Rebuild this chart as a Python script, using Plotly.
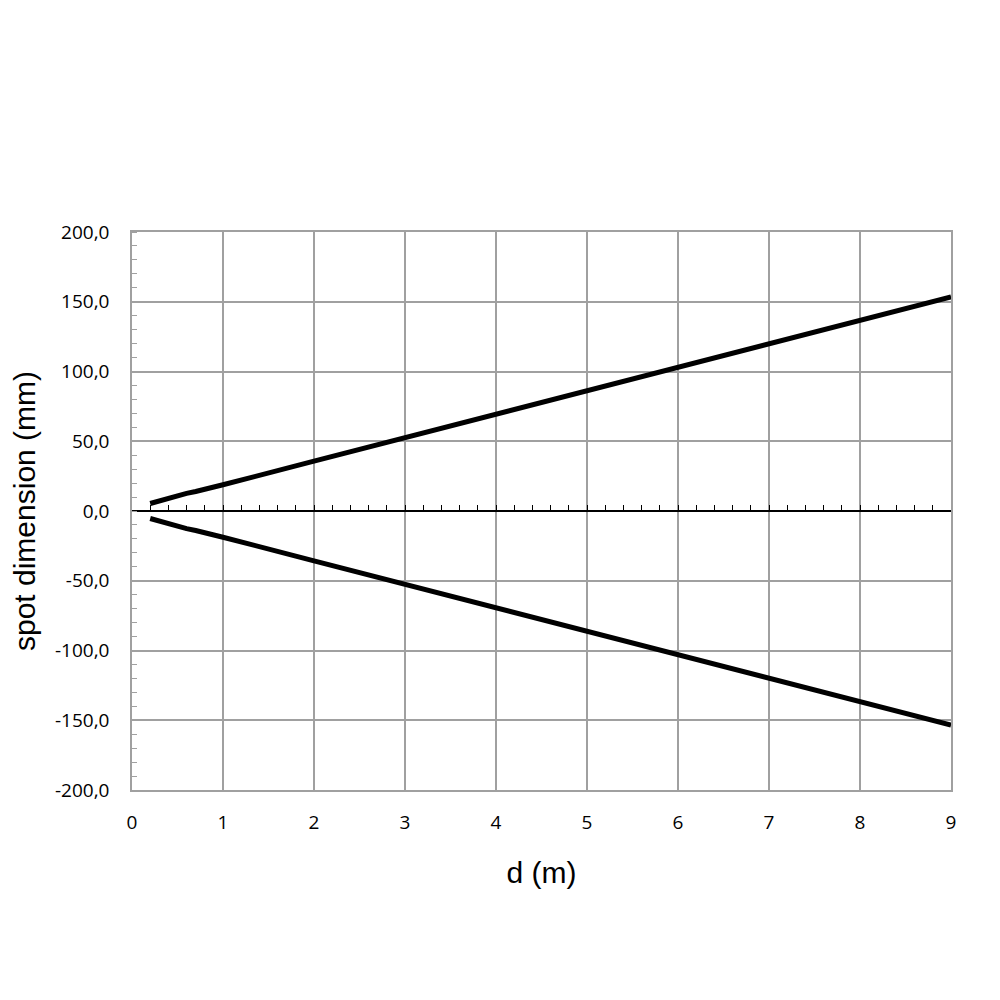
import plotly.graph_objs as go

# distance (m)
d = [0.2, 0.3, 0.4, 0.5, 0.6, 0.7, 0.8, 1, 2, 3, 4, 5, 6, 7, 8, 9]
# spot dimension (mm), upper and lower edge
upper = [5.4, 7.4, 9.3, 11.0, 12.6, 14.0, 15.4, 18.8, 35.7, 52.6, 69.5, 86.4, 103.2, 120.0, 136.8, 153.5]
lower = [-5.4, -7.4, -9.3, -11.0, -12.6, -14.0, -15.4, -18.8, -35.7, -52.6, -69.5, -86.4, -103.2, -120.0, -136.8, -153.5]

x_ticks = [0, 1, 2, 3, 4, 5, 6, 7, 8, 9]
y_ticks = [-200, -150, -100, -50, 0, 50, 100, 150, 200]
y_labels = ['-200,0', '-150,0', '-100,0', '-50,0', '0,0', '50,0', '100,0', '150,0', '200,0']

grid = '#a0a0a0'
tickfont = dict(family='Open Sans', size=19, color='black')
titlefont = dict(family='Liberation Sans', size=30, color='black')

data = [
    go.Scatter(x=d, y=upper, mode='lines', line=dict(color='black', width=5), showlegend=False),
    go.Scatter(x=d, y=lower, mode='lines', line=dict(color='black', width=5), showlegend=False),
    # invisible trace so the zero-line axis gets drawn
    go.Scatter(x=[0, 9], y=[0, 0], xaxis='x2', mode='lines', line=dict(width=0),
               hoverinfo='skip', showlegend=False),
]

layout = go.Layout(
    width=992, height=992,
    paper_bgcolor='white', plot_bgcolor='white',
    margin=dict(l=124, r=49, t=224, b=210),
    xaxis=dict(range=[0, 9], tickvals=x_ticks, showgrid=True, gridcolor=grid, gridwidth=1.5,
               showline=True, linecolor=grid, linewidth=1.5, mirror=True,
               ticks='outside', ticklen=14, tickcolor='rgba(0,0,0,0)',
               tickfont=tickfont, zeroline=False, automargin=False,
               title=dict(text='d (m)', font=titlefont, standoff=28)),
    xaxis2=dict(range=[0, 9], overlaying='x', anchor='free', position=0.5,
                showline=True, linecolor='black', linewidth=1.5,
                ticks='inside', tickcolor='black', ticklen=5, dtick=0.2, tick0=0,
                showticklabels=False, showgrid=False, zeroline=False),
    yaxis=dict(range=[-200, 200], tickvals=y_ticks, ticktext=y_labels,
               showgrid=True, gridcolor=grid, gridwidth=1.5,
               showline=True, linecolor=grid, linewidth=1.5, mirror=True,
               ticks='outside', ticklen=17, tickcolor='rgba(0,0,0,0)',
               tickfont=tickfont, zeroline=False, automargin=False,
               minor=dict(dtick=10, ticks='inside', ticklen=5, tickcolor=grid, showgrid=False),
               title=dict(text='spot dimension (mm)', font=titlefont, standoff=22)),
)

fig = go.Figure(data=data, layout=layout)
fig.write_html('out.html')
